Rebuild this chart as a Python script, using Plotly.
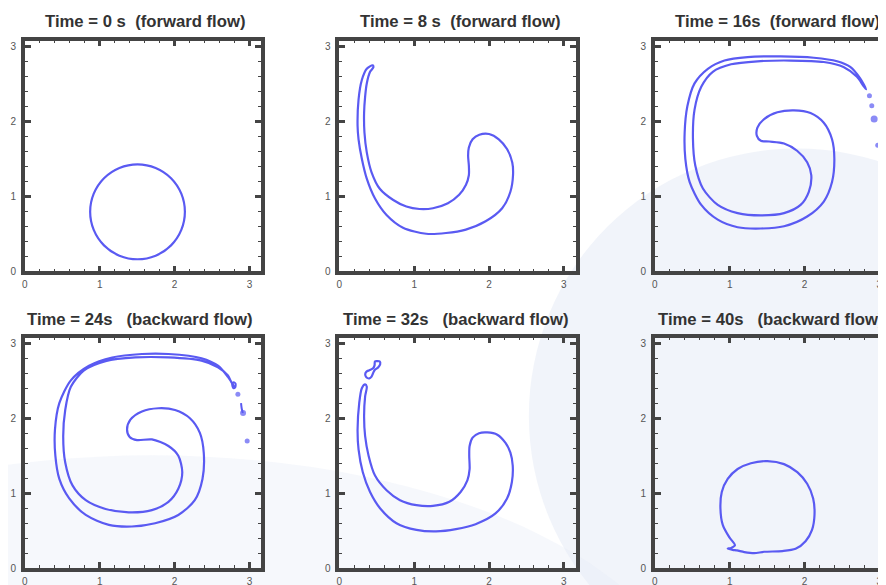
import plotly.graph_objects as go

W, H = 886, 585
OFF = 8  # page body margin of the browser

titles = ["<b>Time = 0 s\u00a0\u00a0(forward flow)</b>",
          "<b>Time = 8 s\u00a0\u00a0(forward flow)</b>",
          "<b>Time = 16s\u00a0\u00a0(forward flow)</b>",
          "<b>Time = 24s\u00a0\u00a0\u00a0(backward flow)</b>",
          "<b>Time = 32s\u00a0\u00a0\u00a0(backward flow)</b>",
          "<b>Time = 40s\u00a0\u00a0\u00a0(backward flow)</b>"]
tick_vals = [0, 1, 2, 3]
tick_text = ["0", "1", "2", "3"]

# t = 0 s : initial circle
t0_x = [2.138, 2.090, 1.953, 1.747, 1.505, 1.263, 1.057, 0.920, 0.872, 0.920, 1.057, 1.263, 1.505, 1.747, 1.953, 2.090, 2.138]
t0_y = [0.793, 1.035, 1.241, 1.378, 1.426, 1.378, 1.241, 1.035, 0.793, 0.551, 0.345, 0.208, 0.160, 0.208, 0.345, 0.551, 0.793]

# t = 8 s
t8_x = [0.445, 0.366, 0.30, 0.256, 0.243, 0.256, 0.30, 0.366, 0.476, 0.63, 0.85, 1.16, 1.425, 1.69, 1.954, 2.175, 2.285, 2.32, 2.31, 2.24, 2.13, 2.0, 1.87, 1.78, 1.73, 1.72, 1.73, 1.73, 1.69, 1.6, 1.45, 1.25, 1.07, 0.895, 0.72, 0.54, 0.43, 0.366, 0.335, 0.33, 0.344, 0.366, 0.41, 0.454, 0.445]
t8_y = [2.746, 2.70, 2.55, 2.29, 1.94, 1.76, 1.50, 1.235, 0.97, 0.75, 0.58, 0.50, 0.51, 0.556, 0.666, 0.84, 1.06, 1.28, 1.45, 1.63, 1.76, 1.83, 1.82, 1.76, 1.65, 1.54, 1.41, 1.28, 1.15, 1.02, 0.907, 0.84, 0.83, 0.863, 0.95, 1.10, 1.32, 1.586, 1.85, 2.11, 2.33, 2.505, 2.66, 2.72, 2.746]

# t = 16 s
t16_x = [2.823, 2.743, 2.61, 2.434, 2.124, 1.68, 1.24, 0.93, 0.708, 0.53, 0.434, 0.398, 0.407, 0.465, 0.62, 0.84, 1.106, 1.416, 1.726, 2.035, 2.257, 2.367, 2.398, 2.367, 2.257, 2.08, 1.858, 1.637, 1.46, 1.37, 1.363, 1.416, 1.527,
         1.726, 1.90, 2.035, 2.09, 2.057, 1.947, 1.726, 1.416, 1.106, 0.84, 0.642, 0.54, 0.509, 0.53, 0.62, 0.774, 1.018, 1.372, 1.814, 2.257, 2.52, 2.70, 2.788, 2.823]
t16_y = [2.427, 2.571, 2.724, 2.80, 2.847, 2.865, 2.856, 2.81, 2.70, 2.505, 2.20, 1.85, 1.50, 1.19, 0.885, 0.688, 0.587, 0.57, 0.60, 0.73, 0.93, 1.19, 1.50, 1.76, 1.98, 2.11, 2.146, 2.12, 2.03, 1.914, 1.805, 1.74, 1.73,
         1.704, 1.607, 1.454, 1.28, 1.06, 0.885, 0.775, 0.745, 0.775, 0.885, 1.104, 1.41, 1.76, 2.155, 2.46, 2.66, 2.76, 2.80, 2.81, 2.79, 2.724, 2.593, 2.47, 2.427]
t16_drop_x = [2.867, 2.898, 2.93, 2.978]
t16_drop_y = [2.34, 2.207, 2.03, 1.68]
t16_drop_s = [5, 5, 7, 5]

# t = 24 s
t24_x = [2.80, 2.713, 2.58, 2.36, 1.918, 1.564, 1.167, 0.857, 0.614, 0.46, 0.402, 0.407, 0.46, 0.592, 0.813, 1.122, 1.43, 1.74, 2.05, 2.27, 2.373, 2.39, 2.338, 2.205, 2.006, 1.785, 1.564, 1.41, 1.365, 1.40, 1.498,
         1.697, 1.918, 2.05, 2.103, 2.05, 1.918, 1.697, 1.388, 1.078, 0.813, 0.636, 0.539, 0.512, 0.539, 0.614, 0.79, 1.078, 1.476, 1.918, 2.36, 2.58, 2.713, 2.757, 2.80]
t24_y = [2.418, 2.55, 2.70, 2.80, 2.856, 2.856, 2.81, 2.70, 2.505, 2.20, 1.85, 1.50, 1.19, 0.93, 0.71, 0.578, 0.556, 0.60, 0.71, 0.907, 1.19, 1.54, 1.805, 2.00, 2.11, 2.133, 2.09, 1.98, 1.85, 1.75, 1.708,
         1.717, 1.63, 1.50, 1.28, 1.06, 0.885, 0.775, 0.745, 0.79, 0.907, 1.104, 1.41, 1.76, 2.11, 2.418, 2.637, 2.76, 2.81, 2.81, 2.768, 2.68, 2.57, 2.484, 2.418]
t24_tip_x = [2.77, 2.79, 2.815, 2.81, 2.785, 2.77]
t24_tip_y = [2.45, 2.48, 2.46, 2.41, 2.40, 2.45]
t24_drop_x = [2.846, 2.915, 2.97]
t24_drop_y = [2.32, 2.07, 1.695]
t24_drop_s = [5, 6, 5]
t24_stem_x = [2.888, 2.897, 2.912]
t24_stem_y = [2.20, 2.13, 2.07]

# t = 32 s
t32_x = [0.344, 0.30, 0.265, 0.243, 0.256, 0.313, 0.41, 0.543, 0.763, 1.03, 1.29, 1.557, 1.82, 2.086, 2.24, 2.305, 2.316, 2.285, 2.22, 2.11, 1.976, 1.866, 1.78, 1.74, 1.735, 1.74, 1.71, 1.62, 1.47, 1.25, 1.03, 0.81, 0.63, 0.476, 0.39, 0.344, 0.33, 0.344, 0.366, 0.344]
t32_y = [2.45, 2.40, 2.20, 1.85, 1.586, 1.28, 1.016, 0.80, 0.60, 0.51, 0.49, 0.52, 0.587, 0.73, 0.93, 1.15, 1.37, 1.54, 1.67, 1.78, 1.81, 1.80, 1.74, 1.63, 1.50, 1.32, 1.17, 1.016, 0.885, 0.83, 0.84, 0.907, 1.04, 1.235, 1.50, 1.76, 2.02, 2.29, 2.42, 2.45]
t32_blob_x = [0.345, 0.36, 0.40, 0.43, 0.45, 0.47, 0.52, 0.545, 0.54, 0.50, 0.475, 0.47, 0.45, 0.40, 0.36, 0.345]
t32_blob_y = [2.585, 2.545, 2.53, 2.555, 2.60, 2.64, 2.68, 2.72, 2.755, 2.76, 2.755, 2.705, 2.665, 2.64, 2.62, 2.585]

# t = 40 s
t40_x = [1.07, 0.996, 0.907, 0.876, 0.894, 0.973, 1.106, 1.283, 1.504, 1.726, 1.903, 2.035, 2.115, 2.133, 2.10, 2.013, 1.88, 1.703, 1.46, 1.327, 1.195, 1.097, 1.04, 0.973, 1.018, 1.07]
t40_y = [0.307, 0.41, 0.578, 0.797, 1.016, 1.19, 1.323, 1.40, 1.428, 1.388, 1.28, 1.126, 0.93, 0.71, 0.512, 0.36, 0.258, 0.228, 0.219, 0.20, 0.215, 0.237, 0.245, 0.263, 0.27, 0.307]

LINE = "rgb(90,90,242)"
FRAME = "#444444"

# panel boxes in screen pixels: (left, right, top, bottom)
boxes = [(22, 260, 41, 274), (339, 577, 41, 274), (657, 895, 41, 274),
         (22, 260, 341, 574), (339, 577, 341, 574), (657, 895, 341, 574)]
PX_PER_X = 238 / 3.155
title_pos = [(40, 22), (358, 22), (675, 22), (22, 323), (341, 323), (658, 323)]

def fx(px):
    return (px - OFF) / W

def fy(py):
    return 1 - (py - OFF) / H

fig = go.Figure()

def add_curve(i, xs, ys, width=2.2):
    fig.add_trace(go.Scatter(x=xs, y=ys, mode="lines", line=dict(color=LINE, width=width, shape="spline", smoothing=0.8),
                             xaxis=f"x{i+1}", yaxis=f"y{i+1}", showlegend=False, hoverinfo="skip"))

def add_drops(i, xs, ys, sizes):
    fig.add_trace(go.Scatter(x=xs, y=ys, mode="markers", marker=dict(color=LINE, size=sizes, line=dict(width=0)),
                             xaxis=f"x{i+1}", yaxis=f"y{i+1}", showlegend=False, hoverinfo="skip"))

add_curve(0, t0_x, t0_y)
add_curve(1, t8_x, t8_y)
add_curve(2, t16_x, t16_y)
add_drops(2, t16_drop_x, t16_drop_y, t16_drop_s)
add_curve(3, t24_x, t24_y)
add_curve(3, t24_tip_x, t24_tip_y, width=2)
add_curve(3, t24_stem_x, t24_stem_y, width=2)
add_drops(3, t24_drop_x, t24_drop_y, t24_drop_s)
add_curve(4, t32_x, t32_y)
add_curve(4, t32_blob_x, t32_blob_y)
add_curve(5, t40_x, t40_y)

layout = dict(width=W, height=H, margin=dict(l=0, r=0, t=0, b=0),
              paper_bgcolor="white", plot_bgcolor="rgba(0,0,0,0)", showlegend=False)

for i, (l, r, t, b) in enumerate(boxes):
    x1 = min(fx(r), 1.0)
    xr = (x1 * W - (l - OFF)) / PX_PER_X
    common = dict(showline=True, linewidth=3.5, linecolor=FRAME, ticks="inside", ticklen=6, tickwidth=3,
                  tickcolor=FRAME, tickvals=tick_vals, ticktext=tick_text, showgrid=False, zeroline=False,
                  tickfont=dict(family="Liberation Sans, Arial", size=10, color="#555555"),
                  minor=dict(dtick=0.2, ticks="inside", ticklen=3, tickwidth=1, tickcolor=FRAME, showgrid=False),
                  fixedrange=True, mirror="allticks")
    xa = dict(common, domain=[fx(l), x1], range=[0, xr], anchor=f"y{i+1}", ticklabelstandoff=1)
    ya = dict(common, domain=[fy(b), fy(t)], range=[0, 3.075], anchor=f"x{i+1}", ticklabelstandoff=3)
    layout[f"xaxis{i+1}"] = xa
    layout[f"yaxis{i+1}"] = ya

fig.update_layout(**layout)

for i, (px, py) in enumerate(title_pos):
    fig.add_annotation(x=fx(px), y=fy(py), xref="paper", yref="paper", text=titles[i], showarrow=False,
                       xanchor="left", yanchor="middle",
                       font=dict(family="Liberation Sans, Arial", size=16.7, color="#333333"))

# faint watermark background
fig.add_shape(type="circle", xref="paper", yref="paper", layer="below",
              x0=fx(530), x1=fx(1070), y0=fy(690), y1=fy(150),
              fillcolor="rgba(228,234,246,0.5)", line=dict(width=0))
fig.add_shape(type="circle", xref="paper", yref="paper", layer="below",
              x0=fx(-400), x1=fx(700), y0=fy(1000), y1=fy(460),
              fillcolor="rgba(228,234,246,0.35)", line=dict(width=0))

fig.write_html("out.html")
